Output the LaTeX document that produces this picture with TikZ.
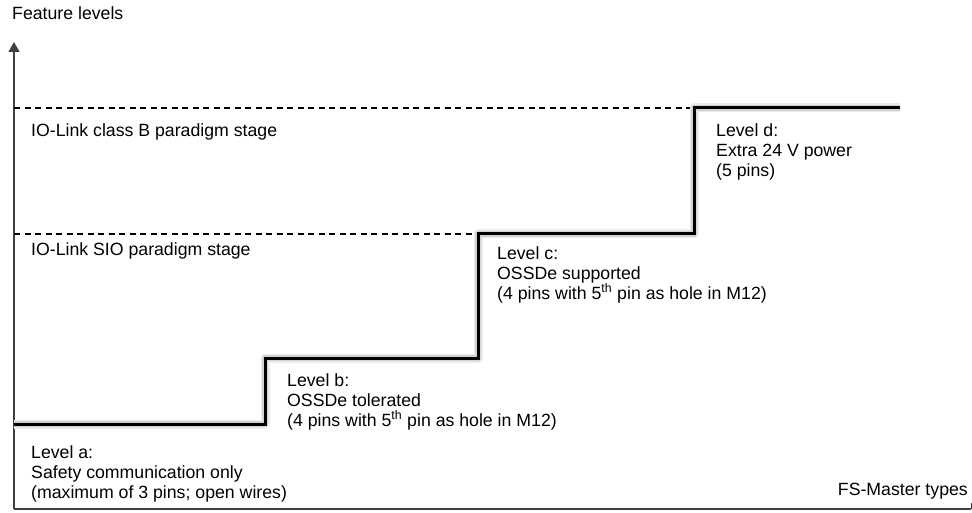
\documentclass[tikz,border=0pt]{standalone}
\usepackage{fontspec}
\setmainfont{Liberation Sans}
\usetikzlibrary{arrows.meta}

\begin{document}
\begin{tikzpicture}[
    x=1pt, y=-1pt,
    font=\fontsize{17.7}{20}\selectfont,
    axis/.style={
      draw=black!75,
      line width=1.5pt
    },
    stage/.style={
      draw=black,
      line width=1.2pt,
      dash pattern=on 6pt off 4.5pt
    },
    levelline/.style={
      draw=black,
      line width=3pt,
      line join=miter
    },
    levelshadow/.style={
      draw=black!#1,
      line width=5pt,
      line join=round,
      shift={(3,3)}
    },
    leveltext/.style={
      anchor=base west,
      align=left,
      inner sep=0pt
    }
  ]
  \useasboundingbox (0,0) rectangle (972,513);

  % axes
  \coordinate (O) at (14,509);
  \coordinate (ytop) at (14,42);
  \coordinate (xend) at (971,509);
  \draw[axis, -{Triangle[width=11pt, length=10pt]}] (O) -- (ytop);
  \draw[axis] (O) -- (xend);
  \draw[axis, line width=1pt] (xend) -- ++(0,-6);

  \node[leveltext] (ylab) at (12,20) {Feature levels};
  \node[leveltext, anchor=base east] (xlab) at (968,495) {FS-Master types};

  % corners of the stair
  \coordinate (a0) at (14,424);
  \coordinate (a1) at (265,424);
  \coordinate (b0) at (265,358);
  \coordinate (b1) at (478,358);
  \coordinate (c0) at (478,234);
  \coordinate (c1) at (694,234);
  \coordinate (d0) at (694,108);
  \coordinate (d1) at (900,108);

  % paradigm stages
  \draw[stage] (O |- d0) -- (d0);
  \draw[stage] (O |- c0) -- (c0);
  \node[leveltext] (classB) at (31,137) {IO-Link class B paradigm stage};
  \node[leveltext] (sio) at (31,255) {IO-Link SIO paradigm stage};

  % the stair with its shadow
  \draw[levelshadow=8, line width=9pt] (a0) -- (a1) -- (b0) -- (b1) -- (c0) -- (c1) -- (d0) -- (d1);
  \draw[levelshadow=18, line width=6pt] (a0) -- (a1) -- (b0) -- (b1) -- (c0) -- (c1) -- (d0) -- (d1);
  \draw[levelshadow=30, line width=3pt] (a0) -- (a1) -- (b0) -- (b1) -- (c0) -- (c1) -- (d0) -- (d1);
  \draw[levelline] (a0) -- (a1) -- (b0) -- (b1) -- (c0) -- (c1) -- (d0) -- (d1);

  % texts below each step (base = last line)
  \node[leveltext] (levA) at (31,498) {Level a:\\Safety communication only\\(maximum of 3 pins; open wires)};
  \node[leveltext] (levB) at (287,426) {Level b:\\OSSDe tolerated\\(4 pins with 5\textsuperscript{th} pin as hole in M12)};
  \node[leveltext] (levC) at (497,299) {Level c:\\OSSDe supported\\(4 pins with 5\textsuperscript{th} pin as hole in M12)};
  \node[leveltext] (levD) at (716,177) {Level d:\\Extra 24 V power\\(5 pins)};
\end{tikzpicture}
\end{document}
